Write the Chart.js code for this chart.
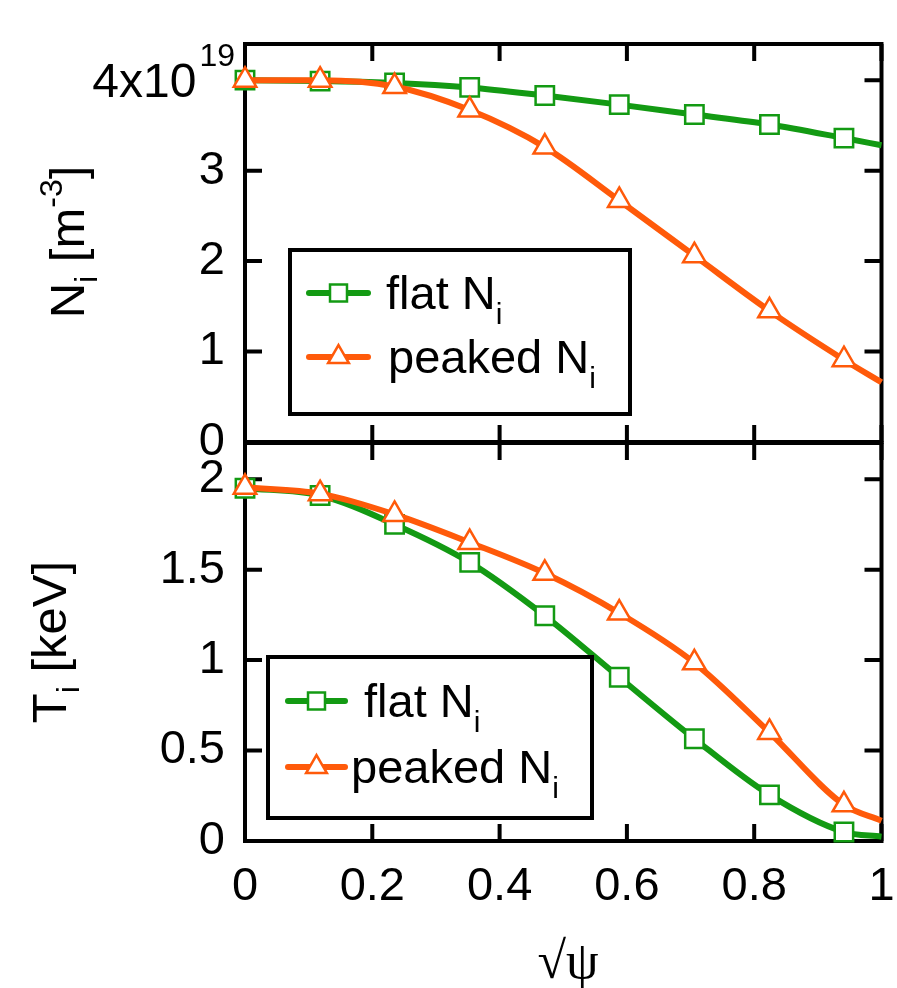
<!DOCTYPE html>
<html>
<head>
<meta charset="utf-8">
<script src="https://cdn.jsdelivr.net/npm/chart.js"></script>
<style>
  html, body { margin: 0; padding: 0; background: #fff; }
  #wrap { position: relative; width: 897px; height: 988px; }
  #wrap canvas { position: absolute; left: 0; top: 0; }
</style>
</head>
<body>
<div id="wrap">
  <canvas id="cBot" width="897" height="988"></canvas>
  <canvas id="cTop" width="897" height="988"></canvas>
</div>
<script>
// sqrt(psi) positions of the profile points (last one has no marker)
const rho = [0, 0.118, 0.235, 0.353, 0.471, 0.588, 0.706, 0.824, 0.941, 1.0];

// ion density, units of 1e19 m^-3
const niFlat   = [4.00, 3.99, 3.97, 3.92, 3.83, 3.73, 3.62, 3.51, 3.36, 3.28];
const niPeaked = [4.00, 4.00, 3.93, 3.67, 3.26, 2.67, 2.06, 1.45, 0.91, 0.66];

// ion temperature, keV
const tiFlat   = [1.95, 1.91, 1.75, 1.54, 1.245, 0.905, 0.565, 0.255, 0.05, 0.024];
const tiPeaked = [1.955, 1.92, 1.805, 1.65, 1.48, 1.26, 0.985, 0.60, 0.20, 0.112];

const seriesNames = ['flat N', 'peaked N'];
const xTicks  = [0, 0.2, 0.4, 0.6, 0.8, 1];
const niTicks = [0, 1, 2, 3, 4];
const tiTicks = [0, 0.5, 1, 1.5, 2];

const GREEN = '#139a13';
const ORANGE = '#ff5a0a';
const SANS = '"Liberation Sans", Arial, sans-serif';
const SERIF = '"Liberation Serif", "Times New Roman", serif';
const MARK = 13;

function series(ys, name, color, style, order) {
  return {
    label: name,
    data: rho.map((x, i) => ({ x: x, y: ys[i] })),
    borderColor: color,
    borderWidth: 6,
    pointStyle: style,
    pointRadius: c => (c.dataIndex === rho.length - 1 ? 0 : MARK),
    pointBorderWidth: 2.5,
    pointBorderColor: color,
    pointBackgroundColor: '#fff',
    cubicInterpolationMode: 'monotone',
    clip: false,
    order: order
  };
}

// text made of pieces with sub/superscripts
function drawPieces(ctx, x, y, pieces, align) {
  let total = 0;
  pieces.forEach(p => { ctx.font = p.size + 'px ' + SANS; p.w = ctx.measureText(p.t).width; total += p.w; });
  let cx = align === 'center' ? x - total / 2 : x;
  ctx.textAlign = 'left';
  ctx.textBaseline = 'alphabetic';
  pieces.forEach(p => {
    ctx.font = p.size + 'px ' + SANS;
    ctx.fillText(p.t, cx, y + (p.dy || 0));
    cx += p.w;
  });
}

function drawLegend(ctx, b) {
  ctx.save();
  ctx.fillStyle = '#fff';
  ctx.fillRect(b.x0, b.y0, b.x1 - b.x0, b.y1 - b.y0);
  ctx.lineWidth = 4;
  ctx.strokeStyle = '#000';
  ctx.strokeRect(b.x0, b.y0, b.x1 - b.x0, b.y1 - b.y0);
  b.rows.forEach((r, i) => {
    ctx.strokeStyle = r.color;
    ctx.lineWidth = 6;
    ctx.lineCap = 'round';
    ctx.beginPath();
    ctx.moveTo(b.lx0, r.y);
    ctx.lineTo(b.lx1, r.y);
    ctx.stroke();
    ctx.fillStyle = '#fff';
    ctx.lineWidth = 2.5;
    Chart.helpers.drawPoint(ctx, { pointStyle: r.style, radius: MARK - 1, borderWidth: 2.5, rotation: 0 }, (b.lx0 + b.lx1) / 2, r.y);
    ctx.fillStyle = '#000';
    drawPieces(ctx, r.tx, r.y + 16, [
      { t: seriesNames[i], size: 47 },
      { t: 'i', size: 30, dy: 15 }
    ], 'left');
  });
  ctx.restore();
}

function drawYTitle(ctx, bx, cy, pieces) {
  ctx.save();
  ctx.translate(bx, cy);
  ctx.rotate(-Math.PI / 2);
  ctx.fillStyle = '#000';
  drawPieces(ctx, 0, 0, pieces, 'center');
  ctx.restore();
}

const framePlugin = {
  id: 'frame',
  beforeDatasetsDraw(chart) {
    const ctx = chart.ctx, a = chart.chartArea;
    const xs = chart.scales.x, ys = chart.scales.y;
    const L = 17;
    ctx.save();
    ctx.strokeStyle = '#000';
    ctx.lineWidth = 4;
    ctx.strokeRect(a.left, a.top, a.right - a.left, a.bottom - a.top);
    ctx.beginPath();
    xTicks.forEach(v => {
      const px = xs.getPixelForValue(v);
      ctx.moveTo(px, a.top); ctx.lineTo(px, a.top + L);
      ctx.moveTo(px, a.bottom); ctx.lineTo(px, a.bottom - L);
    });
    ys.ticks.forEach(t => {
      const py = ys.getPixelForValue(t.value);
      ctx.moveTo(a.left, py); ctx.lineTo(a.left + L, py);
      ctx.moveTo(a.right, py); ctx.lineTo(a.right - L, py);
    });
    ctx.stroke();
    ctx.restore();
  },
  afterDraw(chart, args, opts) {
    const ctx = chart.ctx;
    if (opts.panel === 'top') {
      // 4x10^19 label at the top tick
      const py = chart.scales.y.getPixelForValue(4);
      ctx.save();
      ctx.fillStyle = '#000';
      ctx.textAlign = 'right';
      ctx.textBaseline = 'alphabetic';
      ctx.font = '32px ' + SANS;
      const w19 = ctx.measureText('19').width;
      ctx.fillText('19', 235, py - 14);
      ctx.font = '48px ' + SANS;
      ctx.fillText('4x10', 235 - w19 - 3, py + 17);
      ctx.restore();
      drawYTitle(ctx, 84, 242, [
        { t: 'N', size: 49 }, { t: 'i', size: 32, dy: 13 },
        { t: ' [m', size: 49 }, { t: '-3', size: 32, dy: -22 }, { t: ']', size: 49 }
      ]);
      drawLegend(ctx, {
        x0: 290, y0: 250, x1: 630, y1: 414, lx0: 309, lx1: 368,
        rows: [
          { y: 293, color: GREEN, style: 'rect', tx: 386 },
          { y: 357, color: ORANGE, style: 'triangle', tx: 388 }
        ]
      });
    } else {
      drawYTitle(ctx, 66, 642, [
        { t: 'T', size: 49 }, { t: 'i', size: 32, dy: 13 }, { t: ' [keV]', size: 49 }
      ]);
      drawLegend(ctx, {
        x0: 268, y0: 657, x1: 592, y1: 818, lx0: 288, lx1: 345,
        rows: [
          { y: 701, color: GREEN, style: 'rect', tx: 364 },
          { y: 767, color: ORANGE, style: 'triangle', tx: 351 }
        ]
      });
      ctx.save();
      ctx.fillStyle = '#000';
      ctx.font = '52px ' + SERIF;
      ctx.textAlign = 'center';
      ctx.textBaseline = 'alphabetic';
      ctx.fillText('\u221A\u03C8', 568, 978);
      ctx.restore();
    }
  }
};

function makeChart(id, panel, yMax, yTickVals, dsets, pad, showX) {
  return new Chart(document.getElementById(id), {
    type: 'line',
    data: { datasets: dsets },
    options: {
      responsive: false,
      animation: false,
      devicePixelRatio: 1,
      events: [],
      layout: { padding: pad },
      plugins: {
        legend: { display: false },
        tooltip: { enabled: false },
        frame: { panel: panel }
      },
      scales: {
        x: {
          type: 'linear', min: 0, max: 1,
          display: showX,
          grid: { display: false },
          border: { display: false },
          afterBuildTicks: s => { s.ticks = xTicks.map(v => ({ value: v })); },
          afterFit: s => {
            s.height = showX ? 147 : 0;
            s.paddingLeft = 0; s.paddingRight = 0;
          },
          ticks: {
            padding: 10,
            maxRotation: 0,
            autoSkip: false,
            color: '#000',
            font: { family: SANS, size: 47 },
            callback: v => String(v)
          }
        },
        y: {
          type: 'linear', min: 0, max: yMax,
          grid: { display: false },
          border: { display: false },
          afterBuildTicks: s => { s.ticks = yTickVals.map(v => ({ value: v })); },
          afterFit: s => {
            s.width = 245;
            s.paddingTop = 0; s.paddingBottom = 0;
          },
          ticks: {
            padding: 12,
            autoSkip: false,
            color: '#000',
            font: { family: SANS, size: 47 },
            callback: v => (panel === 'top' && v === 4 ? '' : String(v))
          }
        }
      }
    },
    plugins: [framePlugin]
  });
}

makeChart('cTop', 'top', 4.4, niTicks, [
  series(niFlat, seriesNames[0], GREEN, 'rect', 1),
  series(niPeaked, seriesNames[1], ORANGE, 'triangle', 0)
], { top: 44, bottom: 546, left: 0, right: 5 }, false);

makeChart('cBot', 'bottom', 2.2, tiTicks, [
  series(tiFlat, seriesNames[0], GREEN, 'rect', 1),
  series(tiPeaked, seriesNames[1], ORANGE, 'triangle', 0)
], { top: 443, bottom: 0, left: 0, right: 5 }, true);
</script>
</body>
</html>
